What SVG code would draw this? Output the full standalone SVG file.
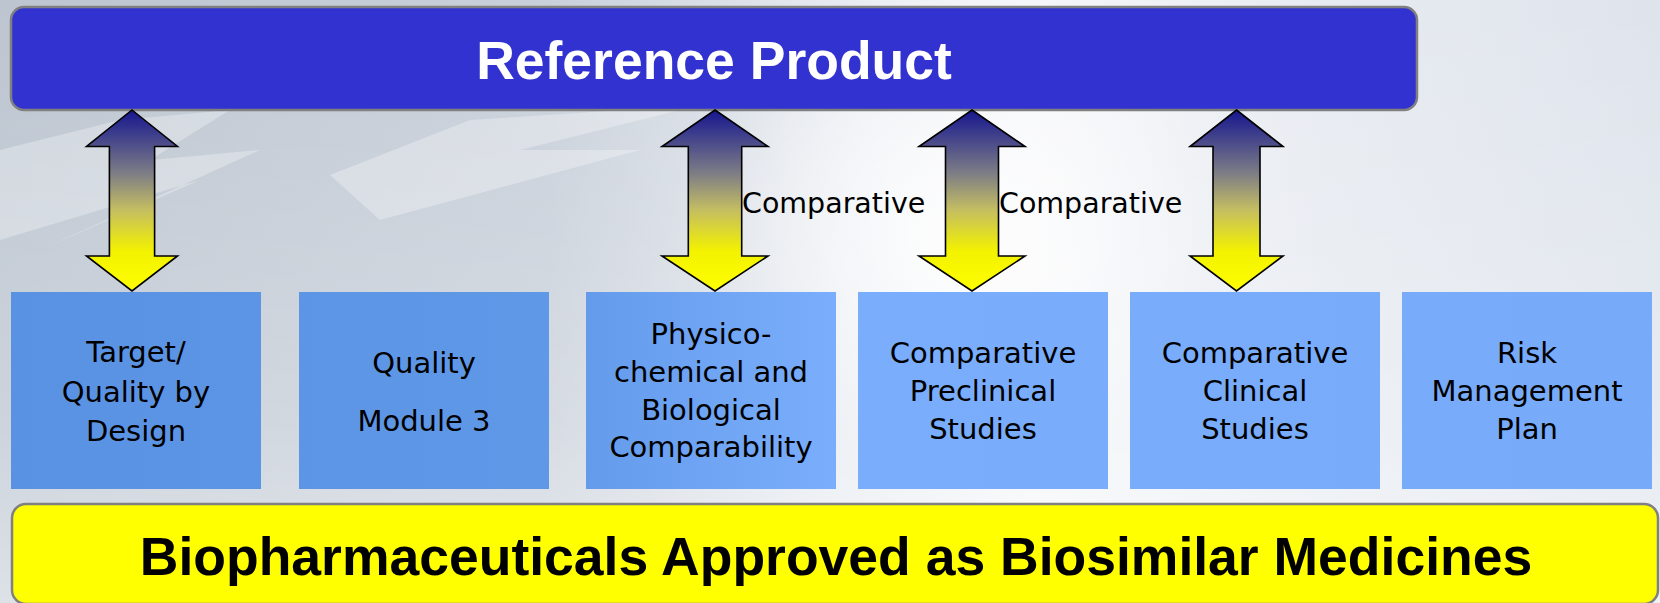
<svg xmlns="http://www.w3.org/2000/svg" width="1660" height="603" viewBox="0 0 1660 603">
  <defs>
    <!-- backdrop: grey-blue on the left fading to near white on the right -->
    <linearGradient id="bgH" x1="0" y1="0" x2="1660" y2="0" gradientUnits="userSpaceOnUse">
      <stop offset="0" stop-color="#bcc5d0"/>
      <stop offset="0.33" stop-color="#c9d0da"/>
      <stop offset="0.5" stop-color="#e6eaf0"/>
      <stop offset="0.62" stop-color="#f5f6f9"/>
      <stop offset="0.8" stop-color="#e7ebf1"/>
      <stop offset="1" stop-color="#dfe4ec"/>
    </linearGradient>
    <linearGradient id="bgV" x1="0" y1="0" x2="0" y2="603" gradientUnits="userSpaceOnUse">
      <stop offset="0" stop-color="#ffffff" stop-opacity="0"/>
      <stop offset="0.7" stop-color="#ffffff" stop-opacity="0.25"/>
      <stop offset="1" stop-color="#ffffff" stop-opacity="0.5"/>
    </linearGradient>
    <radialGradient id="glow" cx="960" cy="230" r="260" gradientUnits="userSpaceOnUse">
      <stop offset="0" stop-color="#ffffff" stop-opacity="0.9"/>
      <stop offset="1" stop-color="#ffffff" stop-opacity="0"/>
    </radialGradient>
    <!-- double-headed arrows: navy at the top, yellow at the bottom -->
    <linearGradient id="arrowFill" x1="0" y1="0" x2="0" y2="1">
      <stop offset="0" stop-color="#16168f"/>
      <stop offset="0.35" stop-color="#7d7d86"/>
      <stop offset="0.55" stop-color="#c4bd62"/>
      <stop offset="0.78" stop-color="#f3f200"/>
      <stop offset="1" stop-color="#ffff00"/>
    </linearGradient>
    <!-- step boxes: darker blue on the left, lighter on the right -->
    <linearGradient id="boxFill" x1="0" y1="0" x2="1660" y2="0" gradientUnits="userSpaceOnUse">
      <stop offset="0" stop-color="#5a92e3"/>
      <stop offset="0.33" stop-color="#6098e8"/>
      <stop offset="0.5" stop-color="#7aaefc"/>
      <stop offset="1" stop-color="#77aaf8"/>
    </linearGradient>
    <style>
      .bar-top { fill: #3232d0; stroke: #808080; stroke-width: 2.5; }
      .bar-bottom { fill: #ffff00; stroke: #808080; stroke-width: 2.5; }
      .title { font-family: "Liberation Sans", Arial, sans-serif; font-weight: bold; font-size: 53.5px; text-anchor: middle; }
      .box { fill: url(#boxFill); }
      .box-text { font-family: "DejaVu Sans", Verdana, sans-serif; font-size: 29px; fill: #000; text-anchor: middle; }
      .arrow { fill: url(#arrowFill); stroke: #000; stroke-width: 1.6; stroke-linejoin: miter; }
      .label { font-family: "DejaVu Sans", Verdana, sans-serif; font-size: 28.5px; fill: #000; }
    </style>
  </defs>

  <!-- backdrop -->
  <rect x="0" y="0" width="1660" height="603" fill="url(#bgH)"/>
  <rect x="0" y="0" width="1660" height="603" fill="url(#glow)"/>
  <rect x="0" y="0" width="1660" height="603" fill="url(#bgV)"/>
  <g fill="#ffffff" opacity="0.3">
    <polygon points="0,150 120,120 230,110 150,160 260,150 40,250 200,180 0,240"/>
    <polygon points="330,175 470,120 700,105 520,150 640,150 380,220"/>
  </g>

  <!-- top bar -->
  <g id="reference-product">
    <rect class="bar-top" x="11" y="7" width="1406" height="103" rx="13" ry="13"/>
    <text class="title" x="714" y="79" fill="#ffffff">Reference Product</text>
  </g>

  <!-- step boxes -->
  <g id="target-qbd">
    <rect class="box" x="11" y="292" width="250" height="197"/>
    <text class="box-text" x="136" y="362">Target/</text>
    <text class="box-text" x="136" y="402">Quality by</text>
    <text class="box-text" x="136" y="441">Design</text>
  </g>
  <g id="quality-module3">
    <rect class="box" x="299" y="292" width="250" height="197"/>
    <text class="box-text" x="424" y="373">Quality</text>
    <text class="box-text" x="424" y="431">Module 3</text>
  </g>
  <g id="physicochemical">
    <rect class="box" x="586" y="292" width="250" height="197"/>
    <text class="box-text" x="711" y="344">Physico-</text>
    <text class="box-text" x="711" y="382">chemical and</text>
    <text class="box-text" x="711" y="420">Biological</text>
    <text class="box-text" x="711" y="457">Comparability</text>
  </g>
  <g id="preclinical">
    <rect class="box" x="858" y="292" width="250" height="197"/>
    <text class="box-text" x="983" y="363">Comparative</text>
    <text class="box-text" x="983" y="401">Preclinical</text>
    <text class="box-text" x="983" y="439">Studies</text>
  </g>
  <g id="clinical">
    <rect class="box" x="1130" y="292" width="250" height="197"/>
    <text class="box-text" x="1255" y="363">Comparative</text>
    <text class="box-text" x="1255" y="401">Clinical</text>
    <text class="box-text" x="1255" y="439">Studies</text>
  </g>
  <g id="risk-management">
    <rect class="box" x="1402" y="292" width="250" height="197"/>
    <text class="box-text" x="1527" y="363">Risk</text>
    <text class="box-text" x="1527" y="401">Management</text>
    <text class="box-text" x="1527" y="439">Plan</text>
  </g>

  <!-- bottom bar -->
  <g id="biosimilars">
    <rect class="bar-bottom" x="12" y="504" width="1646" height="100" rx="14" ry="14"/>
    <text class="title" x="836" y="575" fill="#000000">Biopharmaceuticals Approved as Biosimilar Medicines</text>
  </g>

  <!-- connectors -->
  <g id="connectors">
    <path class="arrow" d="M132,110 L177.5,146.5 L154.6,146.5 L154.6,256 L177.5,256 L132,291 L86.5,256 L109.4,256 L109.4,146.5 L86.5,146.5 Z"/>
    <path class="arrow" d="M715,110 L768,146.5 L741.7,146.5 L741.7,256 L768,256 L715,291 L662,256 L688.3,256 L688.3,146.5 L662,146.5 Z"/>
    <path class="arrow" d="M972,110 L1025,146.5 L998.5,146.5 L998.5,256 L1025,256 L972,291 L919,256 L945.5,256 L945.5,146.5 L919,146.5 Z"/>
    <path class="arrow" d="M1236.5,110 L1283,146.5 L1260,146.5 L1260,256 L1283,256 L1236.5,291 L1190,256 L1213,256 L1213,146.5 L1190,146.5 Z"/>
    <text class="label" x="742" y="213">Comparative</text>
    <text class="label" x="999" y="213">Comparative</text>
  </g>
</svg>
